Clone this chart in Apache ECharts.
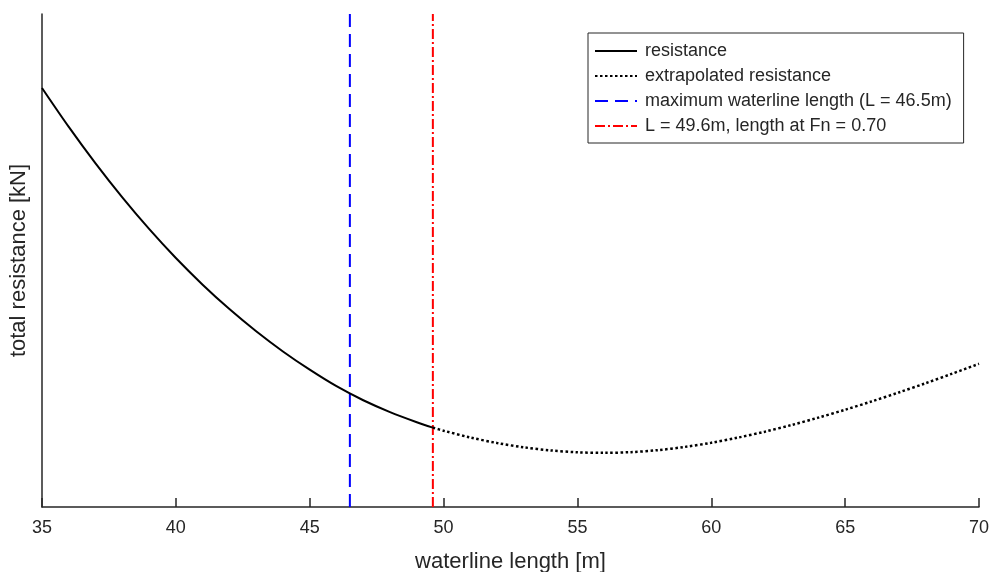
<!DOCTYPE html>
<html>
<head>
<meta charset="utf-8">
<script src="https://cdn.jsdelivr.net/npm/echarts@6/dist/echarts.min.js"></script>
<style>html,body{margin:0;padding:0;background:#fff}#c{width:992px;height:572px}</style>
</head>
<body>
<div id="c"></div>
<script>
// waterline length [m]
const lengthMeasured = [35, 36, 37, 38, 39, 40, 41, 42, 43, 44, 45, 46, 47, 48, 49, 49.6];
const resistMeasured = [85.0, 77.1, 69.7, 62.8, 56.4, 50.5, 45.1, 40.15, 35.65, 31.55, 27.85, 24.5, 21.65, 19.25, 17.2, 16.1];
const lengthExtrap = [49.6, 50, 51, 52, 53, 54, 55, 56, 57, 58, 59, 60, 61, 62, 63, 64, 65, 66, 67, 68, 69, 70];
const resistExtrap = [16.1, 15.48, 14.1, 12.98, 12.1, 11.48, 11.1, 10.98, 11.13, 11.53, 12.18, 13.03, 14.08, 15.28, 16.63, 18.13, 19.73, 21.43, 23.23, 25.1, 27.05, 29.05];
const maxWaterline = 46.5;
const fnLength = 49.6;
const yRange = [0, 100];
const xTicks = [35, 40, 45, 50, 55, 60, 65, 70];

const names = ['resistance', 'extrapolated resistance', 'maximum waterline length (L = 46.5m)', 'L = 49.6m, length at Fn = 0.70'];
const font = 'Arial, "Liberation Sans", Helvetica, sans-serif';
const txt = '#262626';

const zip = (a, b) => a.map((v, i) => [v, b[i]]);

const chart = echarts.init(document.getElementById('c'), null, {renderer: 'canvas'});
chart.setOption({
  animation: false,
  backgroundColor: '#fff',
  grid: {left: 42, right: 13, top: 14, bottom: 65, containLabel: false, outerBoundsMode: 'none'},
  legend: {
    orient: 'vertical',
    left: 588, top: 33,
    padding: [9, 12, 8, 6],
    itemGap: 7,
    itemWidth: 42, itemHeight: 14,
    backgroundColor: '#fff',
    borderColor: '#262626', borderWidth: 1,
    selectedMode: false,
    itemStyle: {opacity: 0},
    textStyle: {fontFamily: font, fontSize: 18, color: txt, padding: [0, 0, 0, 3]},
    data: names
  },
  xAxis: {
    type: 'value', min: 35, max: 70, interval: 5,
    name: 'waterline length [m]', nameLocation: 'middle', nameGap: 44,
    nameTextStyle: {fontFamily: font, fontSize: 22, color: txt},
    axisLine: {show: true, onZero: false, lineStyle: {color: txt, width: 1.5}},
    axisTick: {show: true, inside: true, length: 9, lineStyle: {color: txt, width: 1.5}},
    axisLabel: {fontFamily: font, fontSize: 18, color: txt, margin: 12,
      formatter: v => xTicks.includes(v) ? String(v) : ''},
    splitLine: {show: false}
  },
  yAxis: {
    type: 'value', min: yRange[0], max: yRange[1],
    name: 'total resistance [kN]', nameLocation: 'middle', nameGap: 12,
    nameTextStyle: {fontFamily: font, fontSize: 22, color: txt},
    axisLine: {show: true, onZero: false, lineStyle: {color: txt, width: 1.5}},
    axisTick: {show: false},
    axisLabel: {show: false},
    splitLine: {show: false}
  },
  series: [
    {
      name: names[0], type: 'line', data: zip(lengthMeasured, resistMeasured),
      smooth: 0.3, symbol: 'none', z: 3,
      lineStyle: {color: '#000', width: 2, type: 'solid'},
      itemStyle: {color: '#000'}
    },
    {
      name: names[1], type: 'line', data: zip(lengthExtrap, resistExtrap),
      smooth: 0.3, symbol: 'none', z: 3,
      lineStyle: {color: '#000', width: 2.5, type: [2.5, 2.5], cap: 'butt'},
      itemStyle: {color: '#000'}
    },
    {
      name: names[2], type: 'line', data: [[maxWaterline, yRange[0]], [maxWaterline, yRange[1]]],
      symbol: 'none', z: 2,
      lineStyle: {color: '#0000ff', width: 2, type: [13, 7], cap: 'butt'},
      itemStyle: {color: '#0000ff'}
    },
    {
      name: names[3], type: 'line', data: [[fnLength, yRange[0]], [fnLength, yRange[1]]],
      symbol: 'none', z: 2,
      lineStyle: {color: '#ff0000', width: 2, type: [10, 3, 2, 3], cap: 'butt'},
      itemStyle: {color: '#ff0000'}
    }
  ]
});
</script>
</body>
</html>
